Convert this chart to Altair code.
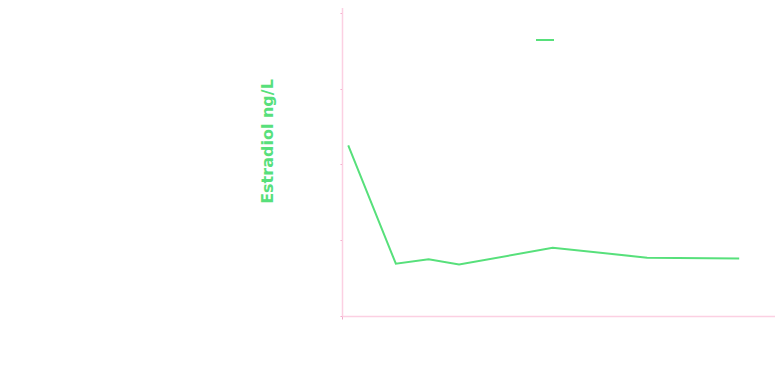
import altair as alt
import pandas as pd

# Data
days = [0.8, 6.9, 11.1, 15.0, 27.0, 39.1, 50.9]
estradiol = [22.5, 6.9, 7.5, 6.8, 9.0, 7.7, 7.6]
series = ["Estradiol"] * len(days)
y_ticks = [0, 10, 20, 30, 40]
x_ticks = [0, 56]

df = pd.DataFrame({"day": days, "estradiol": estradiol, "series": series})

PINK = "#fcd0e2"
TICK_PINK = "#f2a9c8"
GREEN = "#57e07b"

xscale = alt.Scale(domain=[0, 56], nice=False, zero=False)
yscale = alt.Scale(domain=[0, 41.3], nice=False)

xaxis = alt.Axis(values=x_ticks, domainColor=PINK, domainWidth=1.5,
                 tickColor=TICK_PINK, tickSize=3, labels=False,
                 title=None, grid=False)

base = alt.Chart(df)

line = base.mark_line(strokeWidth=2).encode(
    x=alt.X("day:Q", scale=xscale, axis=xaxis),
    y=alt.Y("estradiol:Q", scale=yscale,
            axis=alt.Axis(values=y_ticks, domainColor=PINK, domainWidth=1.5,
                          tickColor=TICK_PINK, tickSize=2, labelColor="white",
                          grid=False, title="Estradiol ng/L",
                          titleColor=GREEN, titleFont="DejaVu Sans",
                          titleFontSize=16, titleFontWeight="bold",
                          titleAngle=270, titleAlign="center",
                          titleBaseline="middle", titleX=-75, titleY=138)),
    color=alt.Color("series:N", scale=alt.Scale(range=[GREEN]),
                    legend=alt.Legend(orient="none", legendX=193, legendY=27,
                                      title=None, symbolType="stroke",
                                      symbolSize=324, symbolStrokeWidth=2,
                                      labelColor="white")),
)

right = base.mark_line(opacity=0).encode(
    x=alt.X("day:Q", scale=xscale, axis=xaxis),
    y=alt.Y("estradiol:Q", scale=yscale,
            axis=alt.Axis(orient="right", values=y_ticks, domain=False,
                          labels=False, tickColor=TICK_PINK, tickSize=2,
                          grid=False, title=None)),
)

chart = alt.layer(line, right).resolve_axis(y="independent").properties(
    width=437, height=313,
    autosize=alt.AutoSizeParams(type="none"),
    padding={"left": 334, "top": -5, "right": -4, "bottom": 49},
).configure_view(stroke=None)

chart.save("out.html", embed_options={"renderer": "svg", "actions": False})
